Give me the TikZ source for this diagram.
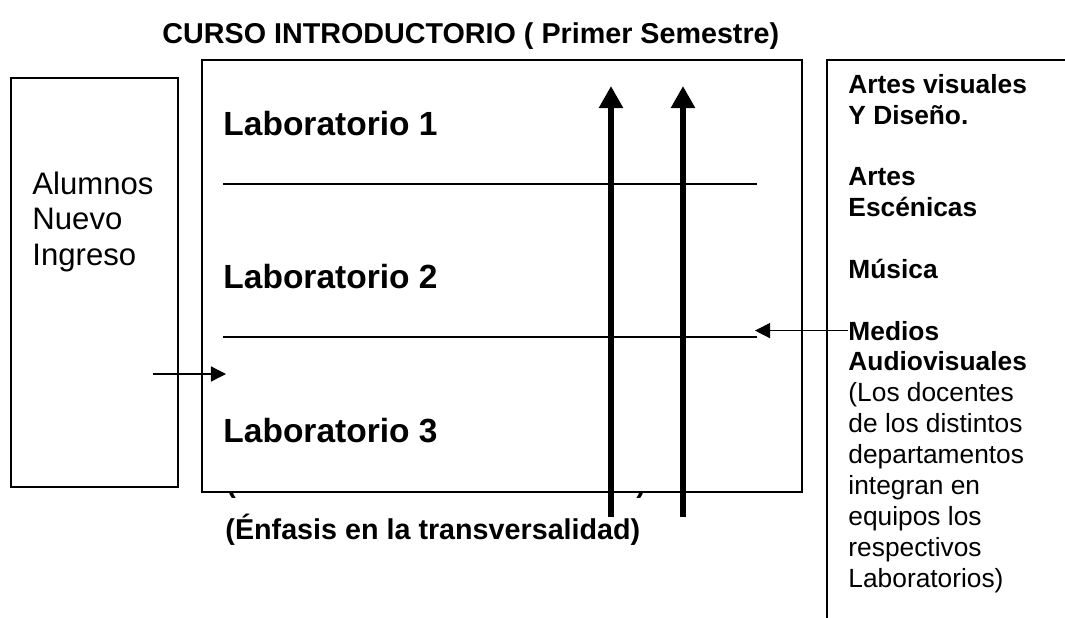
\documentclass[tikz,border=0pt]{standalone}
\usepackage{fontspec}
\setmainfont{Liberation Sans}
\usetikzlibrary{arrows.meta}

\tikzset{
  caja/.style={line width=0.6pt},
  texto/.style={anchor=base west, inner sep=0pt},
  flecha/.style={line width=0.55pt, -{Triangle[length=6.3pt,width=6.3pt]}},
  flechagruesa/.style={line width=2.9pt, -{Triangle[length=9.2pt,width=9.6pt]}},
}

\begin{document}
\begin{tikzpicture}[x=0.418pt, y=-0.418pt]
		%%%%% START %%%%%
		\useasboundingbox (0, 0) rectangle (1065, 618);
		
		\node[texto, font=\fontsize{12}{14}\selectfont\bfseries] (titulo) at (162, 43) {CURSO INTRODUCTORIO ( Primer Semestre)};
		
		\draw[caja] (11, 78) rectangle (178, 487);
		\draw[caja] (202, 60) rectangle (802, 492);
		\draw[caja] (1065, 60) -- (827, 60) -- (827, 618);
		
		% nodos de varias lineas: base = ultima linea
		\node[texto, align=left, font=\fontsize{13}{14.8}\selectfont] (alumnos) at (32, 265) {Alumnos\\Nuevo\\Ingreso};
		
		\node[texto, font=\fontsize{14}{16}\selectfont\bfseries] (lab1) at (223, 135) {Laboratorio 1};
		\node[texto, font=\fontsize{14}{16}\selectfont\bfseries] (lab2) at (223, 288) {Laboratorio 2};
		\node[texto, font=\fontsize{14}{16}\selectfont\bfseries] (lab3) at (223, 442) {Laboratorio 3};
		\draw[line width=0.6pt] (223, 184) -- (757, 184);
		\draw[line width=0.6pt] (223, 337) -- (757, 337);
		
		% restos de la linea tapada por la caja
		\begin{scope}
			\clip (215, 493) rectangle (660, 500);
			\node[texto, font=\fontsize{12}{14}\selectfont\bfseries] (parA) at (226, 492) {(};
			\node[texto, font=\fontsize{12}{14}\selectfont\bfseries] (parB) at (636, 492) {)};
		\end{scope}
		\node[texto, font=\fontsize{12}{14}\selectfont\bfseries] (enfasis) at (225, 539) {(Énfasis en la transversalidad)};
		
		\node[texto, align=left, font=\fontsize{11}{12.9}\selectfont\bfseries] (visuales) at (848, 124) {Artes visuales\\Y Diseño.};
		\node[texto, align=left, font=\fontsize{11}{12.9}\selectfont\bfseries] (escenicas) at (848, 216) {Artes\\Escénicas};
		\node[texto, font=\fontsize{11}{12.9}\selectfont\bfseries] (musica) at (848, 278) {Música};
		\node[texto, font=\fontsize{11}{12.9}\selectfont\bfseries] (medios) at (848, 340) {Medios};
		\node[texto, align=left, font=\fontsize{11}{12.9}\selectfont] (docentes) at (848, 587) {\textbf{Audiovisuales}\\(Los docentes\\de los distintos\\departamentos\\integran en\\equipos los\\respectivos\\Laboratorios)};
		
		\coordinate (entra) at (153, 374);
		\coordinate (labin) at (226, 374);
		\draw[flecha] (entra) -- (labin);
		\coordinate (sepfin) at (755, 329);
		\draw[flecha] (medios.west) -- (medios.west -| sepfin);
		
		\coordinate (bajaA) at (611, 517);
		\coordinate (subeA) at (611, 86);
		\coordinate (bajaB) at (683, 517);
		\coordinate (subeB) at (683, 86);
		\draw[flechagruesa] (bajaA) -- (subeA);
		\draw[flechagruesa] (bajaB) -- (subeB);
		
		%%%%% END %%%%%
\end{tikzpicture}
\end{document}
